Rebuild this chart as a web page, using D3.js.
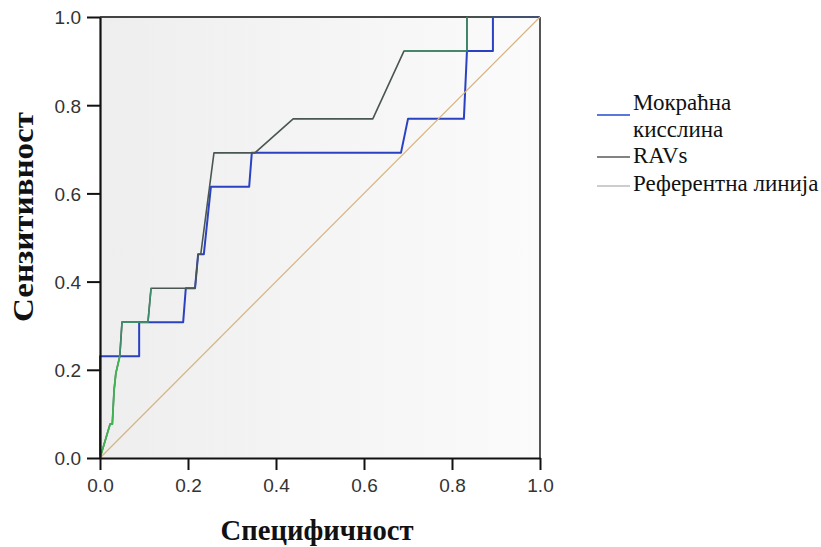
<!DOCTYPE html>
<html>
<head>
<meta charset="utf-8">
<script src="https://cdn.jsdelivr.net/npm/d3@7"></script>
<style>
  html, body { margin: 0; padding: 0; background: #fff; }
  svg { display: block; }
</style>
</head>
<body>
<svg id="chart" width="821" height="547"></svg>
<script>
// ---- data ----
const tickValues = [0, 0.2, 0.4, 0.6, 0.8, 1.0];
const seriesNames = ["Мокраћна кисслина", "RAVs", "Референтна линија"];
const legendLabelLines = [["Мокраћна", "кисслина"], ["RAVs"], ["Референтна линија"]];

// Мокраћна киселина ROC: 1 - specificity, sensitivity
const uricFpr = [0, 0, 0.089, 0.089, 0.189, 0.195, 0.216, 0.223, 0.236, 0.252, 0.339, 0.345, 0.684, 0.700, 0.827, 0.834, 0.893, 0.893, 1];
const uricTpr = [0, 0.231, 0.231, 0.308, 0.308, 0.385, 0.385, 0.462, 0.462, 0.615, 0.615, 0.692, 0.692, 0.769, 0.769, 0.923, 0.923, 1, 1];

// RAVs ROC
const ravsFpr = [0, 0.023, 0.028, 0.032, 0.036, 0.045, 0.050, 0.109, 0.116, 0.216, 0.223, 0.229, 0.259, 0.352, 0.439, 0.620, 0.691, 0.834, 0.834, 1];
const ravsTpr = [0, 0.077, 0.077, 0.154, 0.192, 0.231, 0.308, 0.308, 0.385, 0.385, 0.462, 0.462, 0.692, 0.692, 0.769, 0.769, 0.923, 0.923, 1, 1];

// Reference diagonal
const refFpr = [0, 1];
const refTpr = [0, 1];

const xTitle = "Специфичност";
const yTitle = "Сензитивност";

// ---- drawing ----
const svg = d3.select("#chart");
const plot = { left: 100, right: 540, top: 17, bottom: 458 };

const x = d3.scaleLinear().domain([0, 1]).range([plot.left, plot.right]);
const y = d3.scaleLinear().domain([0, 1]).range([plot.bottom, plot.top]);

const defs = svg.append("defs");
const grad = defs.append("linearGradient").attr("id", "bg")
  .attr("x1", "0%").attr("y1", "0%").attr("x2", "100%").attr("y2", "0%");
grad.append("stop").attr("offset", "0%").attr("stop-color", "#eeeeee");
grad.append("stop").attr("offset", "100%").attr("stop-color", "#fbfbfb");

svg.append("rect")
  .attr("x", plot.left).attr("y", plot.top)
  .attr("width", plot.right - plot.left).attr("height", plot.bottom - plot.top)
  .attr("fill", "url(#bg)");

// frame top/right
svg.append("line").attr("x1", plot.left).attr("x2", plot.right).attr("y1", plot.top).attr("y2", plot.top)
  .attr("stroke", "#444").attr("stroke-width", 2);
svg.append("line").attr("x1", plot.right).attr("x2", plot.right).attr("y1", plot.top).attr("y2", plot.bottom)
  .attr("stroke", "#555").attr("stroke-width", 2);

const zip = (a, b) => a.map((v, i) => [v, b[i]]);
const line = d3.line().x(d => x(d[0])).y(d => y(d[1]));

const uric = zip(uricFpr, uricTpr);
const ravs = zip(ravsFpr, ravsTpr);
const ref = zip(refFpr, refTpr);

svg.append("path").datum(uric).attr("d", line)
  .attr("fill", "none").attr("stroke", "#2a42c2").attr("stroke-width", 2).attr("stroke-linejoin", "round");

svg.append("path").datum(ravs).attr("d", line)
  .attr("fill", "none").attr("stroke", "#4a5652").attr("stroke-width", 1.6).attr("stroke-linejoin", "round");
// greener tones where the RAVs curve looks green in the image
svg.append("path").datum(ravs.slice(0, 6)).attr("d", line)
  .attr("fill", "none").attr("stroke", "#3fb552").attr("stroke-width", 1.8);
svg.append("path").datum(ravs.slice(5, 9)).attr("d", line)
  .attr("fill", "none").attr("stroke", "#3f8c6c").attr("stroke-width", 1.6);
svg.append("path").datum(ravs.slice(16, 19)).attr("d", line)
  .attr("fill", "none").attr("stroke", "#3a8868").attr("stroke-width", 1.6);

svg.append("path").datum(ref).attr("d", line)
  .attr("fill", "none").attr("stroke", "#d6b483").attr("stroke-width", 1.2);

// axes
const xAxis = d3.axisBottom(x).tickValues(tickValues).tickFormat(d3.format(".1f")).tickSize(12).tickSizeOuter(0);
const yAxis = d3.axisLeft(y).tickValues(tickValues).tickFormat(d3.format(".1f")).tickSize(13).tickSizeOuter(0);

const gx = svg.append("g").attr("transform", `translate(0,${plot.bottom})`).call(xAxis);
const gy = svg.append("g").attr("transform", `translate(${plot.left},0)`).call(yAxis);

[gx, gy].forEach(g => {
  g.select(".domain").attr("stroke", "#111").attr("stroke-width", 2.2);
  g.selectAll(".tick line").attr("stroke", "#111").attr("stroke-width", 2);
  g.selectAll(".tick text").attr("fill", "#333")
    .style("font-family", "'Liberation Sans', Arial, sans-serif").style("font-size", "19px");
});
gx.selectAll(".tick text").attr("dy", "0").attr("y", 34);
gy.selectAll(".tick text").attr("x", -19).attr("dy", "0.36em");

// axis titles
svg.append("text")
  .attr("x", 317).attr("y", 540)
  .attr("text-anchor", "middle")
  .attr("textLength", 193).attr("lengthAdjust", "spacingAndGlyphs")
  .style("font-family", "'Liberation Serif', 'Times New Roman', serif")
  .style("font-weight", "bold").style("font-size", "29px").attr("fill", "#111")
  .text(xTitle);

svg.append("text")
  .attr("transform", "translate(33,217) rotate(-90)")
  .attr("text-anchor", "middle")
  .attr("textLength", 210).attr("lengthAdjust", "spacingAndGlyphs")
  .style("font-family", "'Liberation Serif', 'Times New Roman', serif")
  .style("font-weight", "bold").style("font-size", "30px").attr("fill", "#111")
  .text(yTitle);

// legend
const legendColors = ["#5a78dc", "#5a5a5a", "#bdbdbd"];
const legendLineY = [115, 157, 186];
const legendTextY = [[110, 137], [163], [191]];
const lg = svg.append("g");
seriesNames.forEach((name, i) => {
  lg.append("line").attr("x1", 597).attr("x2", 630)
    .attr("y1", legendLineY[i]).attr("y2", legendLineY[i])
    .attr("stroke", legendColors[i]).attr("stroke-width", i === 0 ? 2 : 1.3);
  legendLabelLines[i].forEach((t, j) => {
    lg.append("text").attr("x", 633).attr("y", legendTextY[i][j])
      .style("font-family", "'Liberation Serif', 'Times New Roman', serif")
      .style("font-size", "23px").attr("fill", "#111")
      .text(t);
  });
});
</script>
</body>
</html>
